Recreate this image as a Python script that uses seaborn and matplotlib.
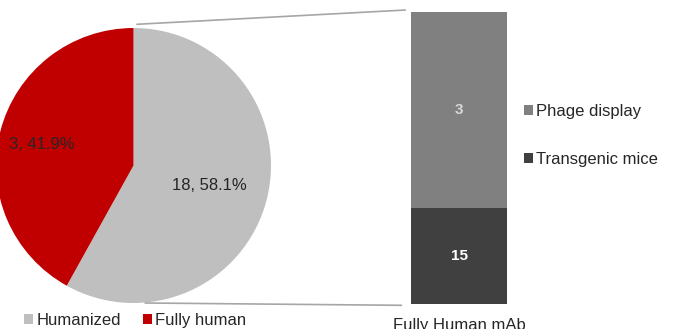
import matplotlib
matplotlib.use("Agg")
import matplotlib.pyplot as plt
from matplotlib.patches import Patch, ConnectionPatch
import seaborn as sns
import pandas as pd
import numpy as np

# ---- data ----
pie_categories = ["Humanized", "Fully human"]
pie_counts = [18, 13]
pie_labels = ["18, 58.1%", "3, 41.9%"]
pie_colors = ["#BFBFBF", "#C00000"]

bar_category = ["Fully Human mAb"]
bar_series = ["Phage display", "Transgenic mice"]
phage_display = [3]
transgenic_mice = [15]
bar_colors = ["#808080", "#404040"]
bar_label_colors = ["#D9D9D9", "#FFFFFF"]

sns.set_theme(style="white")
plt.rcParams["font.family"] = ["Liberation Sans", "DejaVu Sans"]
TXT = "#262626"
FS = 12

W, H = 673, 329
fig = plt.figure(figsize=(W / 100, H / 100), dpi=100)

# ---- pie ----
R = 137.5
cx, cy = 133.5, 165.5
ax_pie = fig.add_axes([(cx - R) / W, (H - cy - R) / H, 2 * R / W, 2 * R / H])
wedges, texts = ax_pie.pie(pie_counts, colors=pie_colors, startangle=90,
                           counterclock=False, radius=1,
                           wedgeprops=dict(linewidth=0))
ax_pie.set_xlim(-1, 1)
ax_pie.set_ylim(-1, 1)
ax_pie.set_aspect("auto")
ax_pie.axis("off")

total = sum(pie_counts)
angle = 90.0
label_pos = []
for c in pie_counts:
    span = 360.0 * c / total
    mid = np.deg2rad(angle - span / 2)
    label_pos.append((np.cos(mid), np.sin(mid)))
    angle -= span
# Humanized label
ax_pie.text(0.57 * label_pos[0][0], 0.57 * label_pos[0][1], pie_labels[0],
            ha="center", va="center", fontsize=FS, color=TXT)
# Fully human label (shifted toward the left edge as in the original)
ax_pie.text(-0.905, 0.155, pie_labels[1], ha="left", va="center",
            fontsize=FS, color=TXT)

# ---- stacked bar ----
bx0, bx1 = 411, 507
by_top, by_bot = 12, 304
ax_bar = fig.add_axes([bx0 / W, (H - by_bot) / H, (bx1 - bx0) / W, (by_bot - by_top) / H])
df_total = pd.DataFrame({"cat": bar_category,
                         "val": [p + t for p, t in zip(phage_display, transgenic_mice)]})
df_bottom = pd.DataFrame({"cat": bar_category, "val": transgenic_mice})
sns.barplot(data=df_total, x="cat", y="val", color=bar_colors[0], width=1.0,
            saturation=1, ax=ax_bar, linewidth=0)
sns.barplot(data=df_bottom, x="cat", y="val", color=bar_colors[1], width=1.0,
            saturation=1, ax=ax_bar, linewidth=0)
ymin = 13.53
ymax = phage_display[0] + transgenic_mice[0]
ax_bar.set_xlim(-0.5, 0.5)
ax_bar.set_ylim(ymin, ymax)
ax_bar.set_xlabel("")
ax_bar.set_ylabel("")
ax_bar.set_yticks([])
ax_bar.tick_params(axis="x", length=0, pad=10, labelsize=FS, labelcolor=TXT)
for s in ax_bar.spines.values():
    s.set_visible(False)

# value labels
bottom_center = (ymin + transgenic_mice[0]) / 2
top_center = (transgenic_mice[0] + ymax) / 2
ax_bar.text(0, top_center, str(phage_display[0]), ha="center", va="center",
            fontsize=11, fontweight="bold", color=bar_label_colors[0])
ax_bar.text(0, bottom_center, str(transgenic_mice[0]), ha="center", va="center",
            fontsize=11, fontweight="bold", color=bar_label_colors[1])

# ---- connector lines ----
con1 = ConnectionPatch(xyA=(0.025, 1.027), coordsA=ax_pie.transData,
                       xyB=(-0.56, ymax + 0.03), coordsB=ax_bar.transData,
                       color="#A6A6A6", linewidth=1.2)
con2 = ConnectionPatch(xyA=(0.085, -1.0), coordsA=ax_pie.transData,
                       xyB=(-0.6, ymin - 0.02), coordsB=ax_bar.transData,
                       color="#A6A6A6", linewidth=1.2)
fig.add_artist(con1)
fig.add_artist(con2)

# ---- legends ----
pie_handles = [Patch(facecolor=c, edgecolor="none") for c in pie_colors]
fig.legend(pie_handles, pie_categories, loc="center left",
           bbox_to_anchor=(24 / W, (H - 320.5) / H), ncol=2, frameon=False,
           fontsize=FS, handlelength=0.55, handleheight=0.55, handletextpad=0.2,
           columnspacing=1.3, borderpad=0, borderaxespad=0, labelcolor=TXT)

bar_handles = [Patch(facecolor=c, edgecolor="none") for c in bar_colors]
fig.legend(bar_handles, bar_series, loc="center left",
           bbox_to_anchor=(524 / W, (H - 135.5) / H), ncol=1, frameon=False,
           fontsize=FS, handlelength=0.55, handleheight=0.55, handletextpad=0.2,
           labelspacing=1.95, borderpad=0, borderaxespad=0, labelcolor=TXT)

fig.savefig("out.png", dpi=100)
